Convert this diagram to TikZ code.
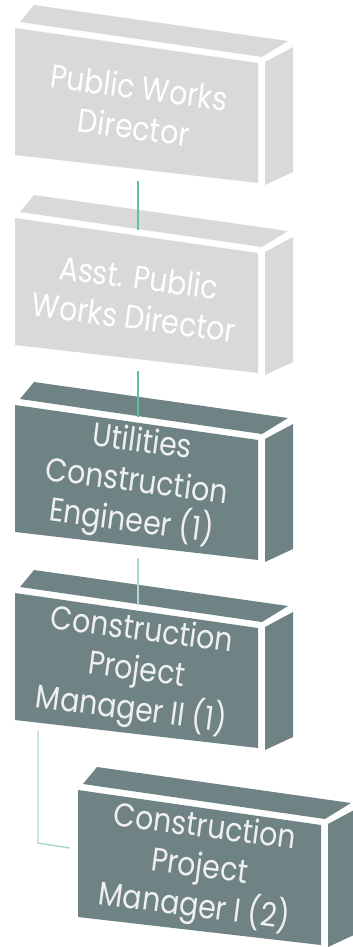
\documentclass[tikz,border=0pt]{standalone}
\usepackage{fontspec}
\setmainfont[FakeStretch=0.86]{Poppins}
\definecolor{lgray}{HTML}{D9D9D9}
\definecolor{dslate}{HTML}{6F8284}
\definecolor{conn}{HTML}{5EC2A2}
\definecolor{connlight}{HTML}{A9DACD}
\newcommand{\orgbox}[6]{%
  \begin{scope}[shift={(#2,#3)}]
    \fill[#4] (15,28) -- (258,63) -- (258,183) -- (15,155) -- cycle;
    \fill[#4] (265,62) -- (293,47) -- (293,172) -- (265,185) -- cycle;
    \fill[#4] (20,22) -- (34,5) -- (288,41) -- (262,57) -- cycle;
    \node[boxtext, text=#5] (#1) at (136.5,107) {#6};
    \coordinate (#1-in) at (138,40);
    \coordinate (#1-out) at (138,181);
    \coordinate (#1-outl) at (38,166);
    \coordinate (#1-inl) at (7,86);
  \end{scope}}
\begin{document}
\begin{tikzpicture}[x=1pt,y=-1pt,
  boxtext/.style={align=center, inner sep=0pt, rotate=-7.5,
    font=\fontsize{33}{40}\selectfont},
  link/.style={conn, line width=1.6pt},
  linklight/.style={connlight, line width=1.4pt}]
\useasboundingbox (0,0) rectangle (353,947);
\clip (0,0) rectangle (353,947);
\orgbox{b1}{0}{0}{lgray}{white}{Public Works\\Director}
\orgbox{b2}{0}{190}{lgray}{white}{Asst. Public\\Works Director}
\orgbox{b3}{0}{377}{dslate}{white!94!black}{Utilities\\Construction\\Engineer (1)}
\orgbox{b4}{0}{565}{dslate}{white!94!black}{Construction\\Project\\Manager II (1)}
\orgbox{b5}{63}{762}{dslate}{white!94!black}{Construction\\Project\\Manager I (2)}
\draw[link] (b1-out) -- (b2-in);
\draw[link] (b2-out) -- (b3-in);
\draw[linklight] (b3-out) -- (b4-in);
\draw[linklight] (b4-outl) -- (38,843) -- (b5-inl);
\end{tikzpicture}
\end{document}
